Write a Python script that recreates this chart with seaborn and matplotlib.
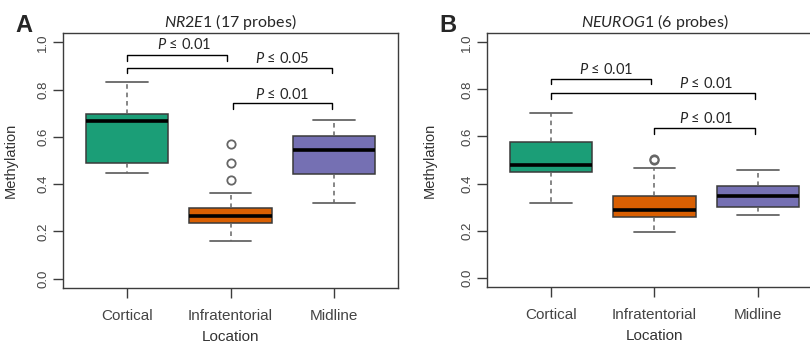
import matplotlib
matplotlib.use("Agg")
import matplotlib.pyplot as plt
import seaborn as sns
import pandas as pd

# values (each list gives the box stats exactly:
# low whisker, Q1, median, Q3, high whisker, then outliers)
locations = ["Cortical", "Infratentorial", "Midline"]
colors = ["#1B9E77", "#D95F02", "#7570B3"]

nr2e1_cortical = [0.449, 0.490, 0.668, 0.697, 0.833]
nr2e1_infra = [0.157, 0.235, 0.235, 0.235, 0.235, 0.264, 0.264, 0.264, 0.264,
               0.298, 0.298, 0.298, 0.298, 0.362, 0.416, 0.489, 0.568]
nr2e1_midline = [0.319, 0.442, 0.543, 0.605, 0.670]

neurog1_cortical = [0.319, 0.447, 0.480, 0.578, 0.701]
neurog1_infra = [0.195, 0.256, 0.256, 0.256, 0.288, 0.288, 0.288,
                 0.345, 0.345, 0.345, 0.464, 0.498, 0.503]
neurog1_midline = [0.266, 0.299, 0.345, 0.389, 0.459]

# brackets: (from, to, bar height, label x, label y, p)
nr2e1_tests = [(0, 0.97, 0.947, 0.55, 0.993, "0.01"),
               (0, 1.98, 0.893, 1.5, 0.932, "0.05"),
               (1.02, 1.98, 0.744, 1.5, 0.779, "0.01")]
neurog1_tests = [(0, 0.97, 0.846, 0.53, 0.886, "0.01"),
                 (0, 1.97, 0.783, 1.5, 0.825, "0.01"),
                 (1.0, 1.97, 0.635, 1.5, 0.675, "0.01")]


def long_df(groups):
    rows = []
    for loc, vals in zip(locations, groups):
        for v in vals:
            rows.append({"Location": loc, "Methylation": v})
    return pd.DataFrame(rows)


sns.set_style("white")
plt.rcParams["font.family"] = ["Liberation Sans", "DejaVu Sans"]
plt.rcParams["mathtext.fontset"] = "custom"
plt.rcParams["mathtext.rm"] = "Lato"
plt.rcParams["mathtext.it"] = "Lato:italic"

fig = plt.figure(figsize=(8.1, 3.44), dpi=100)
axA = fig.add_axes([63 / 810, 1 - 288 / 344, 335 / 810, 255 / 344])
axB = fig.add_axes([487 / 810, 1 - 287 / 344, 335 / 810, 254 / 344])

panels = [
    (axA, [nr2e1_cortical, nr2e1_infra, nr2e1_midline], nr2e1_tests,
     r"$\mathit{NR2E1}$ (17 probes)", "A", -0.134),
    (axB, [neurog1_cortical, neurog1_infra, neurog1_midline], neurog1_tests,
     r"$\mathit{NEUROG1}$ (6 probes)", "B", -0.149),
]

frame = "#3c3c3c"
for ax, groups, tests, title, letter, ylab_x in panels:
    df = long_df(groups)
    sns.boxplot(data=df, x="Location", y="Methylation", hue="Location",
                palette=colors, saturation=1, width=0.8, whis=1.5,
                legend=False, ax=ax, linecolor="#3a3a3a", linewidth=1.1,
                medianprops=dict(color="black", linewidth=2.6),
                whiskerprops=dict(color="#666666", linestyle=(0, (3, 2.5)), linewidth=1.1),
                capprops=dict(color="#666666", linewidth=1.3),
                flierprops=dict(marker="o", markersize=6, markerfacecolor="none",
                                markeredgecolor="#666666", markeredgewidth=1.3))
    ax.set_xlim(-0.62, 2.62)
    ax.set_ylim(-0.04, 1.04)
    ax.set_yticks([0, 0.2, 0.4, 0.6, 0.8, 1.0])
    ax.set_yticklabels(["0.0", "0.2", "0.4", "0.6", "0.8", "1.0"],
                       rotation=90, va="center", fontsize=9.5, color="#444444")
    ax.tick_params(axis="x", length=7, width=1, color=frame, pad=8,
                   labelsize=11, labelcolor="#444444")
    ax.tick_params(axis="y", length=7, width=1, color=frame, pad=3)
    ax.tick_params(direction="out", bottom=True, left=True)
    for s in ax.spines.values():
        s.set_visible(True)
        s.set_color(frame)
        s.set_linewidth(1)
    ax.set_ylabel("Methylation", fontsize=10.5, color="#333333")
    ax.yaxis.set_label_coords(ylab_x, 0.5)
    ax.set_xlabel("Location", fontsize=11, color="#333333")
    ax.xaxis.set_label_coords(0.5, -0.165)

    for x0, x1, yb, tx, ty, p in tests:
        ax.plot([x0, x0, x1, x1], [yb - 0.024, yb, yb, yb - 0.024],
                color="black", linewidth=1)
        ax.text(tx, ty, r"$\mathit{P}$ ≤ " + p,
                ha="center", va="center", fontsize=10.5,
                family=["Lato", "DejaVu Sans"])

    ax.set_title(title, fontsize=11.5, pad=4, family=["Lato", "DejaVu Sans"])
    pos = ax.get_position()
    fig.text(pos.x0 - 48 / 810, 1 - 14 / 344, letter, fontsize=17,
             fontweight="bold", va="top", ha="left")

fig.savefig("out.png", dpi=100)
